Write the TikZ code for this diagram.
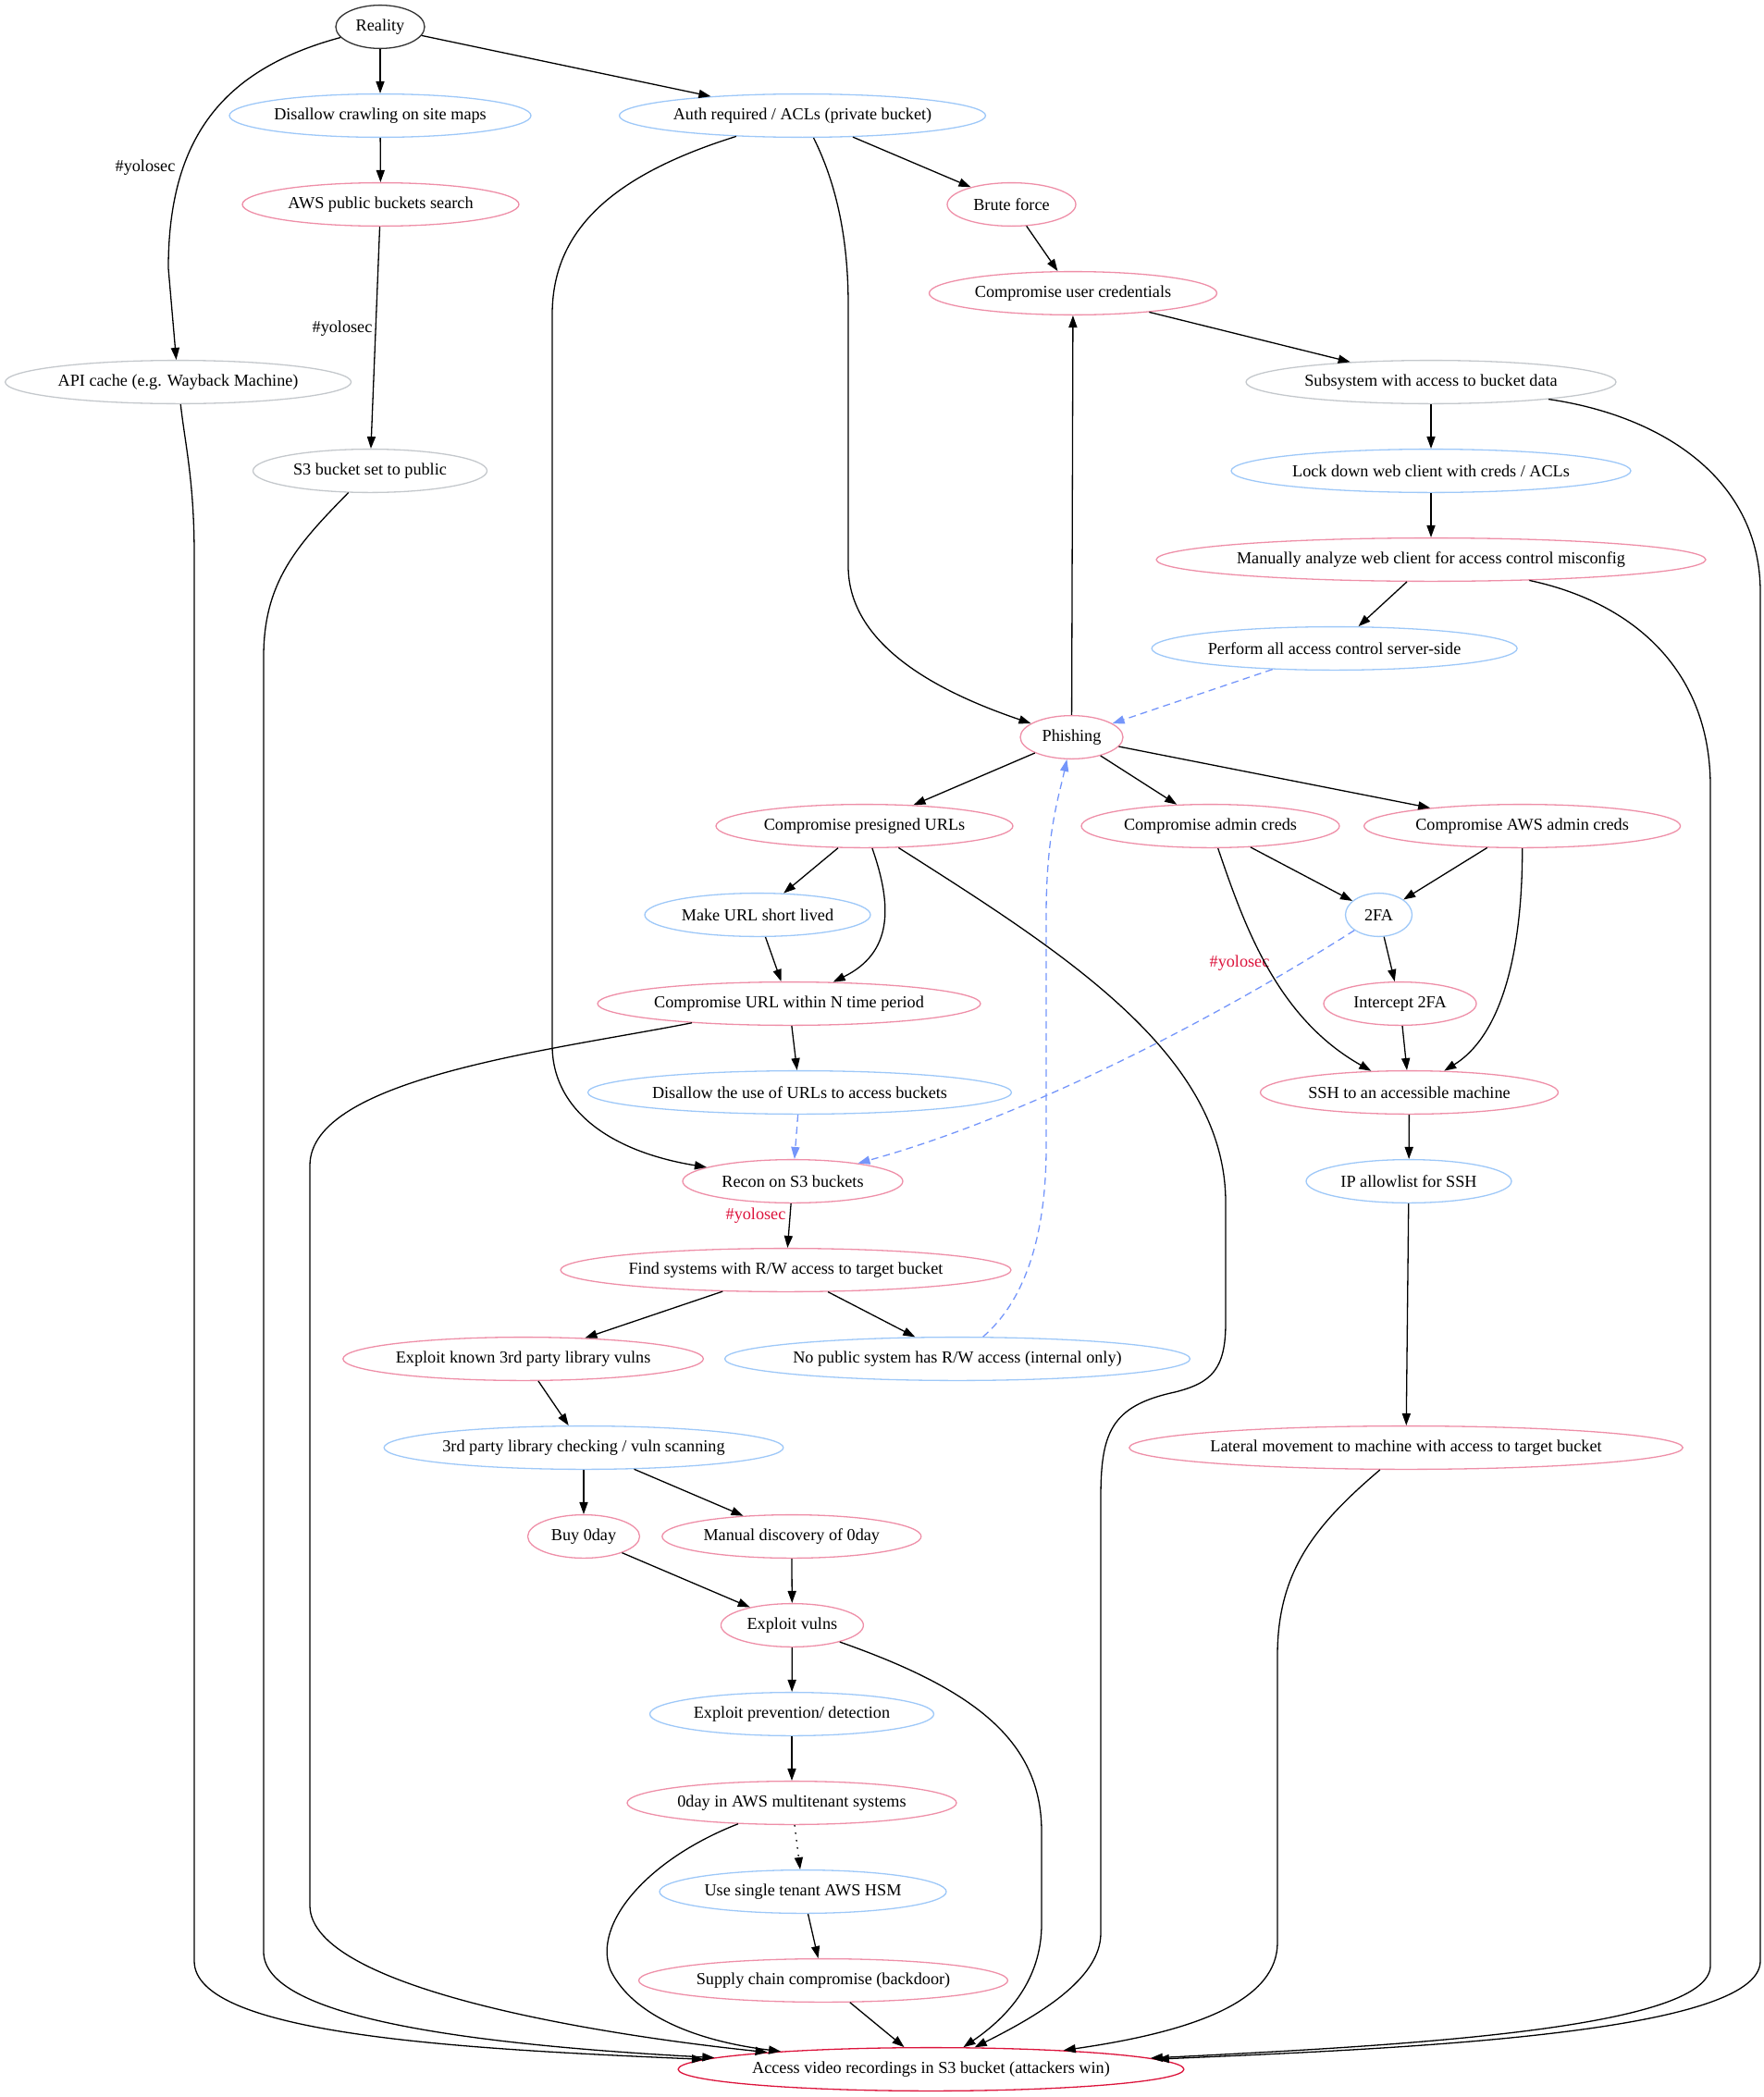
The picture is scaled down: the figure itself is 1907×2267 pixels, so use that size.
\documentclass[tikz,border=0pt]{standalone}
\usepackage{fontspec}
\setmainfont{Liberation Serif}
\usetikzlibrary{arrows.meta,shapes.geometric}
\definecolor{pinkc}{HTML}{EE8FA8}
\definecolor{bluec}{HTML}{9EC8F8}
\definecolor{grayc}{HTML}{C4C8CC}
\definecolor{crim}{HTML}{DC143C}
\definecolor{dashc}{HTML}{7596FA}
\begin{document}
\begin{tikzpicture}[x=0.76923pt,y=-0.76923pt,
  nd/.style={ellipse,draw,inner sep=0pt,minimum height=36pt,line width=1pt,font=\fontsize{14pt}{16pt}\selectfont},
  wd/.style={minimum width={#1*0.76923pt}},
  pinknode/.style={nd,draw=pinkc},
  bluenode/.style={nd,draw=bluec},
  graynode/.style={nd,draw=grayc},
  edg/.style={draw=black,line width=1pt,-{Triangle[length=10pt,width=7pt]}},
  dsh/.style={draw=dashc,line width=1pt,dash pattern=on 6pt off 4pt,-{Triangle[length=10pt,width=7pt]}},
  dtt/.style={draw=black,line width=1pt,dash pattern=on 1.2pt off 5pt,-{Triangle[length=10pt,width=7pt]}},
  lbl/.style={inner sep=0pt,font=\fontsize{14pt}{16pt}\selectfont},
  rlbl/.style={lbl,text=crim}
]
\useasboundingbox (0,0) rectangle (1907,2267);
% nodes
\node[nd,draw=black!80,wd=96] (reality) at (411,29) {Reality};
\node[bluenode,wd=326] (disallowcrawl) at (411,125) {Disallow crawling on site maps};
\node[bluenode,wd=396] (auth) at (867.5,125) {Auth required / ACLs (private bucket)};
\node[pinknode,wd=299] (awspublic) at (411.5,221) {AWS public buckets search};
\node[pinknode,wd=139] (brute) at (1093.5,221) {Brute force};
\node[pinknode,wd=311] (compuser) at (1160,317) {Compromise user credentials};
\node[graynode,wd=374] (apicache) at (192.6,413) {API cache (e.g. Wayback Machine)};
\node[graynode,wd=400] (subsystem) at (1547,413) {Subsystem with access to bucket data};
\node[graynode,wd=253] (s3public) at (400,509) {S3 bucket set to public};
\node[bluenode,wd=432] (lockdown) at (1547,509) {Lock down web client with creds / ACLs};
\node[pinknode,wd=583] (manually) at (1547,605) {Manually analyze web client for access control misconfig};
\node[bluenode,wd=395] (perform) at (1442.6,701) {Perform all access control server-side};
\node[pinknode,wd=111] (phishing) at (1158.5,797) {Phishing};
\node[pinknode,wd=321] (presigned) at (934.5,893) {Compromise presigned URLs};
\node[pinknode,wd=279] (admincreds) at (1308.5,893) {Compromise admin creds};
\node[pinknode,wd=342] (awsadmin) at (1645.6,893) {Compromise AWS admin creds};
\node[bluenode,wd=244] (shortlived) at (819,989) {Make URL short lived};
\node[bluenode,wd=72] (twofa) at (1490.5,989) {2FA};
\node[pinknode,wd=414] (urlwithin) at (853,1085) {Compromise URL within N time period};
\node[pinknode,wd=165] (intercept) at (1513.5,1085) {Intercept 2FA};
\node[bluenode,wd=458] (disallowurls) at (864.5,1181) {Disallow the use of URLs to access buckets};
\node[pinknode,wd=322] (ssh) at (1523.5,1181) {SSH to an accessible machine};
\node[pinknode,wd=238] (recon) at (857,1277) {Recon on S3 buckets};
\node[bluenode,wd=222] (ipallow) at (1523,1277) {IP allowlist for SSH};
\node[pinknode,wd=487] (findsys) at (849.5,1373) {Find systems with R/W access to target bucket};
\node[pinknode,wd=388] (exploitknown) at (565.6,1469) {Exploit known 3rd party library vulns};
\node[bluenode,wd=503] (nopublic) at (1035,1469) {No public system has R/W access (internal only)};
\node[bluenode,wd=429] (thirdparty) at (631,1565) {3rd party library checking / vuln scanning};
\node[pinknode,wd=580] (lateral) at (1520,1565) {Lateral movement to machine with access to target bucket};
\node[pinknode,wd=121] (buy0day) at (631,1661) {Buy 0day};
\node[pinknode,wd=280] (manual0day) at (855.8,1661) {Manual discovery of 0day};
\node[pinknode,wd=154] (exploitvulns) at (856.4,1757) {Exploit vulns};
\node[bluenode,wd=307] (exploitprev) at (856,1853) {Exploit prevention/ detection};
\node[pinknode,wd=356] (zeroday) at (856,1949) {0day in AWS multitenant systems};
\node[bluenode,wd=310] (hsm) at (868,2045) {Use single tenant AWS HSM};
\node[pinknode,wd=399] (supply) at (890,2141) {Supply chain compromise (backdoor)};
\node[nd,draw=crim,wd=545] (access) at (1006.5,2237) {Access video recordings in S3 bucket (attackers win)};
% edges
\draw[edg] (reality) -- (disallowcrawl);
\draw[edg] (reality) -- (auth);
\draw[edg] (reality) .. controls (240,75) and (182,150) .. (182,290) -- (apicache);
\node[lbl] (lyolo1) at (157,181) {\#yolosec};
\draw[edg] (disallowcrawl) -- (awspublic);
\draw[edg] (awspublic) -- (s3public);
\node[lbl] (lyolo2) at (370,355) {\#yolosec};
\draw[edg] (auth) -- (brute);
\draw[edg] (auth) .. controls (905,200) and (917,260) .. (917,330) -- (917,612) .. controls (917,700) and (1020,750) .. (phishing);
\draw[edg] (brute) -- (compuser);
\draw[edg] (compuser) -- (subsystem);
\draw[edg] (phishing) -- (compuser);
\draw[edg] (subsystem) -- (lockdown);
\draw[edg] (lockdown) -- (manually);
\draw[edg] (manually) -- (perform);
\draw[edg] (subsystem) .. controls (1800,450) and (1903,520) .. (1903,640) -- (1903,2120) .. controls (1903,2200) and (1500,2215) .. (access);
\draw[edg] (manually) .. controls (1760,650) and (1849,720) .. (1849,850) -- (1849,2125) .. controls (1849,2195) and (1500,2212) .. (access);
\draw[dsh] (perform) -- (phishing);
\draw[edg] (phishing) -- (presigned);
\draw[edg] (phishing) -- (admincreds);
\draw[edg] (phishing) -- (awsadmin);
\draw[edg] (presigned) -- (shortlived);
\draw[edg] (presigned) .. controls (965,980) and (965,1030) .. (urlwithin);
\draw[edg] (presigned) .. controls (1150,1030) and (1325,1140) .. (1325,1300) -- (1325,1430) .. controls (1325,1480) and (1310,1495) .. (1270,1505) .. controls (1200,1520) and (1190,1550) .. (1190,1620) -- (1190,2090) .. controls (1190,2140) and (1120,2180) .. (access);
\draw[edg] (shortlived) -- (urlwithin);
\draw[edg] (urlwithin) -- (disallowurls);
\draw[edg] (urlwithin) .. controls (600,1135) and (335,1165) .. (335,1260) -- (335,2060) .. controls (335,2150) and (650,2200) .. (access);
\draw[dsh] (disallowurls) -- (recon);
\draw[edg] (auth) .. controls (660,190) and (597,250) .. (597,340) -- (597,1130) .. controls (597,1200) and (660,1245) .. (recon);
\draw[dsh] (twofa) .. controls (1300,1110) and (1100,1210) .. (recon);
\node[rlbl] (lyolo3) at (1340,1041) {\#yolosec};
\draw[edg] (admincreds) -- (twofa);
\draw[edg] (awsadmin) -- (twofa);
\draw[edg] (admincreds) .. controls (1345,1000) and (1380,1100) .. (ssh);
\draw[edg] (awsadmin) .. controls (1646,1010) and (1630,1115) .. (ssh);
\draw[edg] (twofa) -- (intercept);
\draw[edg] (intercept) -- (ssh);
\draw[edg] (ssh) -- (ipallow);
\draw[edg] (ipallow) -- (lateral);
\draw[edg] (lateral) .. controls (1420,1650) and (1381,1700) .. (1381,1790) -- (1381,2100) .. controls (1381,2160) and (1300,2195) .. (access);
\draw[edg] (recon) -- (findsys);
\node[rlbl] (lyolo4) at (817,1314) {\#yolosec};
\draw[edg] (findsys) -- (exploitknown);
\draw[edg] (findsys) -- (nopublic);
\draw[dsh] (nopublic) .. controls (1115,1400) and (1131,1320) .. (1131,1240) -- (1131,990) .. controls (1131,900) and (1145,860) .. (phishing);
\draw[edg] (exploitknown) -- (thirdparty);
\draw[edg] (thirdparty) -- (buy0day);
\draw[edg] (thirdparty) -- (manual0day);
\draw[edg] (buy0day) -- (exploitvulns);
\draw[edg] (manual0day) -- (exploitvulns);
\draw[edg] (exploitvulns) -- (exploitprev);
\draw[edg] (exploitprev) -- (zeroday);
\draw[dtt] (zeroday) -- (hsm);
\draw[edg] (hsm) -- (supply);
\draw[edg] (supply) -- (access);
\draw[edg] (exploitvulns) .. controls (1050,1825) and (1126,1880) .. (1126,1980) -- (1126,2080) .. controls (1126,2140) and (1090,2180) .. (access);
\draw[edg] (zeroday) .. controls (700,2010) and (640,2080) .. (660,2130) .. controls (690,2190) and (780,2210) .. (access);
\draw[edg] (apicache) .. controls (200,480) and (210,520) .. (210,600) -- (210,2120) .. controls (210,2200) and (500,2215) .. (access);
\draw[edg] (s3public) .. controls (320,590) and (285,630) .. (285,710) -- (285,2110) .. controls (285,2180) and (500,2210) .. (access);
\end{tikzpicture}
\end{document}
